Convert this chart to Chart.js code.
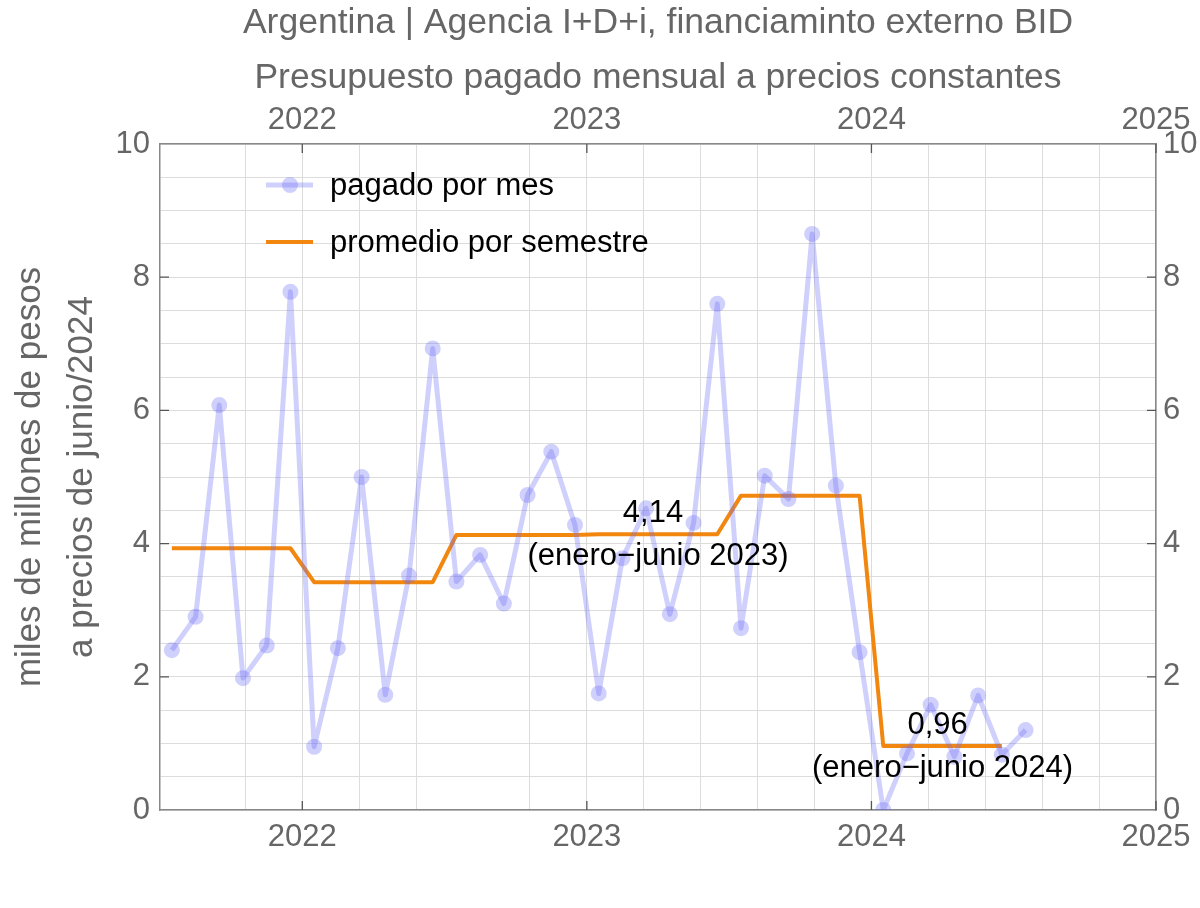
<!DOCTYPE html>
<html>
<head>
<meta charset="utf-8">
<script src="https://cdn.jsdelivr.net/npm/chart.js@4.4.1/dist/chart.umd.min.js"></script>
<style>
  html, body { margin: 0; padding: 0; background: #fff; }
  #wrap { width: 1200px; height: 908px; }
</style>
</head>
<body>
<div id="wrap"><canvas id="myChart" width="1200" height="908"></canvas></div>
<script>
// monthly payments, thousands of millions of pesos (June 2024 prices)
const months = [
  '2021-07', '2021-08', '2021-09', '2021-10', '2021-11', '2021-12',
  '2022-01', '2022-02', '2022-03', '2022-04', '2022-05', '2022-06',
  '2022-07', '2022-08', '2022-09', '2022-10', '2022-11', '2022-12',
  '2023-01', '2023-02', '2023-03', '2023-04', '2023-05', '2023-06',
  '2023-07', '2023-08', '2023-09', '2023-10', '2023-11', '2023-12',
  '2024-01', '2024-02', '2024-03', '2024-04', '2024-05', '2024-06',
  '2024-07'
];
const pagado = [
  2.40, 2.90, 6.08, 1.98, 2.47, 7.78,
  0.95, 2.43, 5.00, 1.73, 3.52, 6.93,
  3.43, 3.83, 3.10, 4.73, 5.38, 4.28,
  1.75, 3.78, 4.53, 2.94, 4.31, 7.60,
  2.73, 5.02, 4.67, 8.65, 4.87, 2.37,
  0.00, 0.85, 1.58, 0.80, 1.72, 0.83,
  1.20
];

// semester averages
const semestres = ['2021-S2', '2022-S1', '2022-S2', '2023-S1', '2023-S2', '2024-S1'];
const promedios = [3.93, 3.42, 4.13, 4.14, 4.72, 0.96];

// labelled semesters
const notaSemestres = ['2023-S1', '2024-S1'];
const notaTextos = ['(enero\u2212junio 2023)', '(enero\u2212junio 2024)'];

const yearTicks = [2022, 2023, 2024, 2025];
const xGrid = [2021.8, 2022, 2022.2, 2022.4, 2022.8, 2023, 2023.2, 2023.4, 2023.6, 2023.8,
               2024, 2024.2, 2024.4, 2024.6, 2024.8, 2025];

const FONT = "'Liberation Sans', Arial, sans-serif";
const GRAY = '#666666';
const BLUE = 'rgba(110, 110, 245, 0.32)';
const ORANGE = '#F2870F';

const toX = (m) => {
  const [y, mo] = m.split('-').map(Number);
  return y + (mo - 0.5) / 12;
};
const semOf = (m) => {
  const [y, mo] = m.split('-').map(Number);
  return y + '-S' + (mo <= 6 ? 1 : 2);
};

const pagadoPts = months.map((m, i) => ({ x: toX(m), y: pagado[i] }));
const promedioPts = months
  .filter(m => semestres.includes(semOf(m)))
  .map(m => ({ x: toX(m), y: promedios[semestres.indexOf(semOf(m))] }));

const decorPlugin = {
  id: 'decor',
  afterDraw(chart) {
    const { ctx, chartArea: a, scales } = chart;
    const cx = (a.left + a.right) / 2;
    ctx.save();
    // titles
    ctx.fillStyle = GRAY;
    ctx.font = '35.5px ' + FONT;
    ctx.textAlign = 'center';
    ctx.textBaseline = 'middle';
    ctx.fillText('Argentina | Agencia I+D+i, financiaminto externo BID', cx, 23);
    ctx.fillText('Presupuesto pagado mensual a precios constantes', cx, 78);

    // y title
    ctx.save();
    ctx.translate(0, (a.top + a.bottom) / 2);
    ctx.rotate(-Math.PI / 2);
    ctx.font = '35px ' + FONT;
    ctx.fillText('miles de millones de pesos', 0, 30);
    ctx.fillText('a precios de junio/2024', 0, 82);
    ctx.restore();

    // inward ticks
    ctx.strokeStyle = '#555';
    ctx.lineWidth = 1.3;
    yearTicks.forEach(v => {
      const px = scales.x.getPixelForValue(v);
      ctx.beginPath();
      ctx.moveTo(px, a.bottom); ctx.lineTo(px, a.bottom - 9);
      ctx.moveTo(px, a.top); ctx.lineTo(px, a.top + 9);
      ctx.stroke();
    });
    [2, 4, 6, 8].forEach(v => {
      const py = scales.y.getPixelForValue(v);
      ctx.beginPath();
      ctx.moveTo(a.left, py); ctx.lineTo(a.left + 9, py);
      ctx.moveTo(a.right, py); ctx.lineTo(a.right - 9, py);
      ctx.stroke();
    });

    // legend
    const lx = a.left + 106, ly1 = 185, ly2 = 242;
    ctx.lineCap = 'butt';
    ctx.strokeStyle = BLUE;
    ctx.lineWidth = 5;
    ctx.beginPath(); ctx.moveTo(lx, ly1); ctx.lineTo(lx + 47, ly1); ctx.stroke();
    ctx.fillStyle = BLUE;
    ctx.beginPath(); ctx.arc(lx + 24, ly1, 8, 0, Math.PI * 2); ctx.fill();
    ctx.strokeStyle = ORANGE;
    ctx.lineWidth = 4;
    ctx.beginPath(); ctx.moveTo(lx, ly2); ctx.lineTo(lx + 47, ly2); ctx.stroke();
    ctx.fillStyle = '#000';
    ctx.font = '31px ' + FONT;
    ctx.textAlign = 'left';
    ctx.fillText('pagado por mes', lx + 64, ly1 + 1);
    ctx.fillText('promedio por semestre', lx + 64, ly2 + 1);

    // semester annotations
    ctx.textAlign = 'center';
    notaSemestres.forEach((s, i) => {
      const val = promedios[semestres.indexOf(s)];
      const [yy, hh] = s.split('-S').map(Number);
      const xmid = scales.x.getPixelForValue(yy + (hh === 1 ? 0.25 : 0.75));
      const py = scales.y.getPixelForValue(val);
      ctx.fillText(val.toFixed(2).replace('.', ','), xmid - 5, py - 21);
      ctx.fillText(notaTextos[i], xmid, py + 22);
    });
    ctx.restore();
  }
};

const tickFont = { family: FONT, size: 31 };

new Chart(document.getElementById('myChart'), {
  type: 'line',
  data: {
    datasets: [
      {
        label: 'pagado por mes',
        data: pagadoPts,
        borderColor: BLUE,
        backgroundColor: BLUE,
        borderWidth: 5,
        borderJoinStyle: 'round',
        pointRadius: 8,
        pointBorderWidth: 0,
        pointBackgroundColor: BLUE,
        tension: 0,
        clip: 0
      },
      {
        label: 'promedio por semestre',
        data: promedioPts,
        borderColor: ORANGE,
        borderWidth: 4,
        borderJoinStyle: 'round',
        pointRadius: 0,
        tension: 0,
        clip: 0
      }
    ]
  },
  options: {
    responsive: false,
    animation: false,
    events: [],
    layout: { padding: 0 },
    plugins: { legend: { display: false }, tooltip: { enabled: false }, title: { display: false } },
    scales: {
      x: {
        type: 'linear', position: 'bottom', min: 2021.5, max: 2025,
        afterBuildTicks: (s) => { s.ticks = xGrid.map(v => ({ value: v })); },
        afterFit: (s) => { s.height = 98; },
        ticks: {
          autoSkip: false, maxRotation: 0, padding: 9, color: GRAY, font: tickFont,
          callback: (v) => (Number.isInteger(v) ? String(v) : '')
        },
        grid: { color: '#dcdcdc', lineWidth: 1, drawTicks: false },
        border: { color: '#888', width: 1.5 }
      },
      x2: {
        type: 'linear', position: 'top', min: 2021.5, max: 2025,
        afterBuildTicks: (s) => { s.ticks = yearTicks.map(v => ({ value: v })); },
        afterFit: (s) => { s.height = 144; },
        ticks: {
          autoSkip: false, maxRotation: 0, padding: 5, color: GRAY, font: tickFont,
          callback: (v) => String(v)
        },
        grid: { display: false, drawTicks: false },
        border: { color: '#888', width: 1.5 }
      },
      y: {
        position: 'left', min: 0, max: 10,
        afterFit: (s) => { s.width = 160; },
        ticks: {
          stepSize: 0.5, autoSkip: false, padding: 10, color: GRAY, font: tickFont,
          callback: (v) => (v % 2 === 0 ? String(v) : '')
        },
        grid: { color: '#dcdcdc', lineWidth: 1, drawTicks: false },
        border: { color: '#888', width: 1.5 }
      },
      y2: {
        position: 'right', min: 0, max: 10,
        afterFit: (s) => { s.width = 44; },
        ticks: {
          stepSize: 0.5, autoSkip: false, padding: 7, color: GRAY, font: tickFont,
          callback: (v) => (v % 2 === 0 ? String(v) : '')
        },
        grid: { display: false, drawTicks: false },
        border: { color: '#888', width: 1.5 }
      }
    }
  },
  plugins: [decorPlugin]
});
</script>
</body>
</html>
